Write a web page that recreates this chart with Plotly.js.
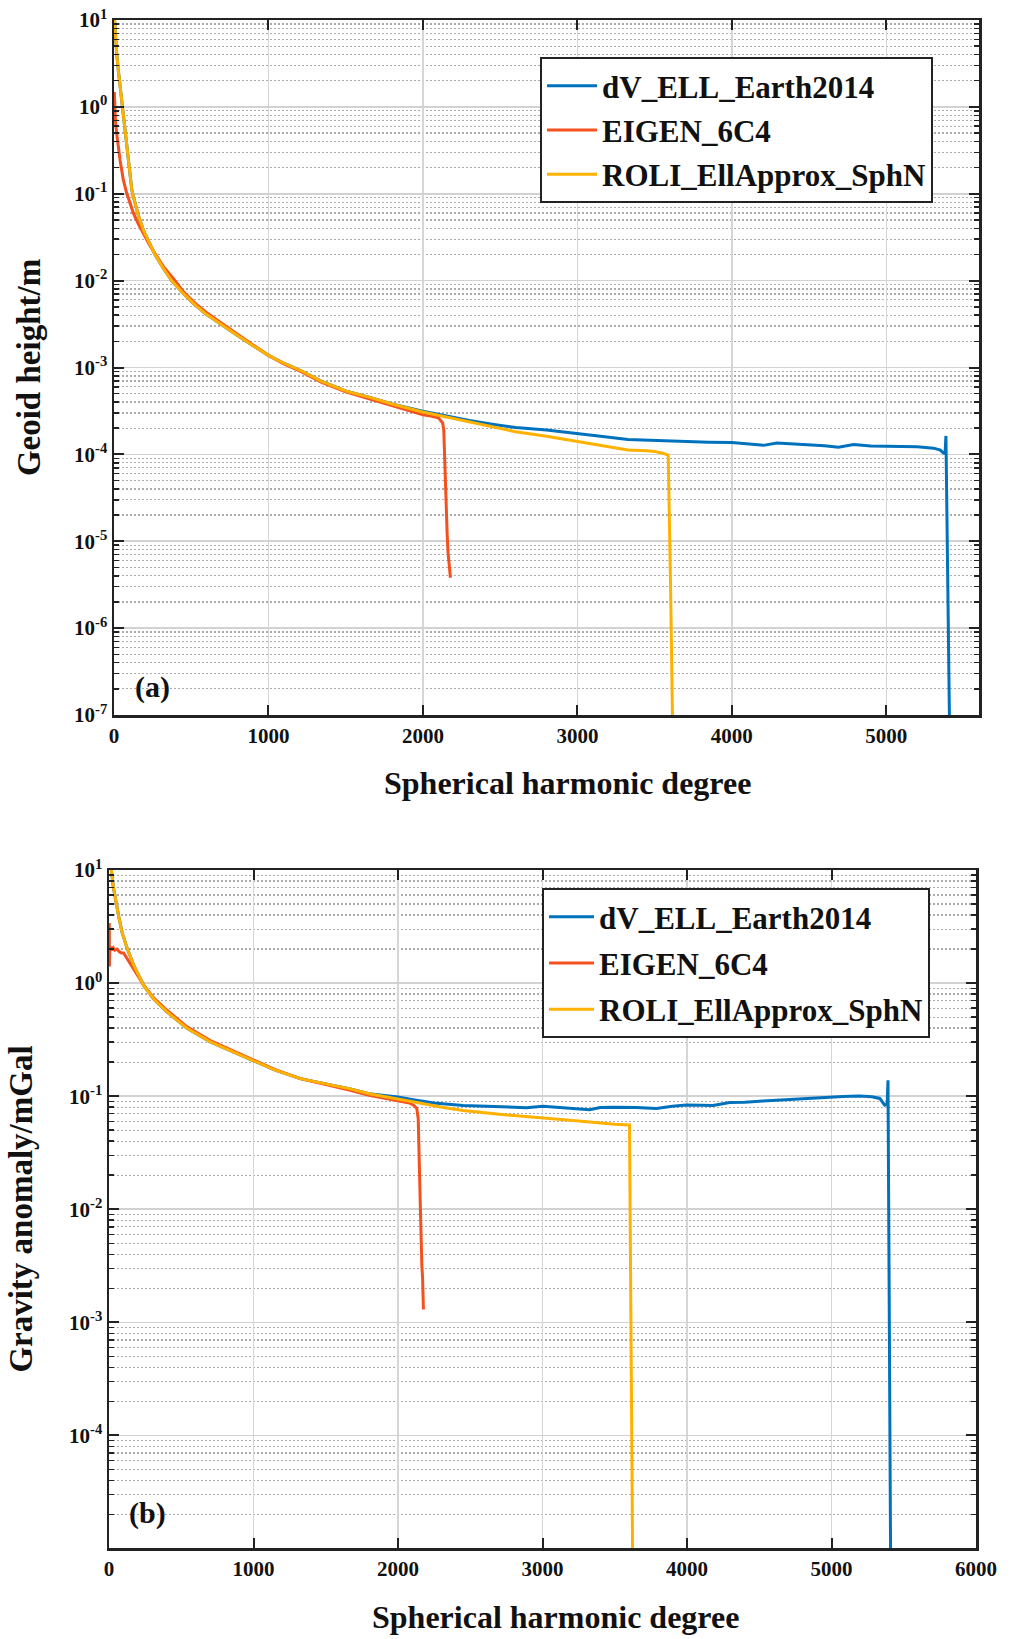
<!DOCTYPE html>
<html>
<head>
<meta charset="utf-8">
<script src="https://cdn.plot.ly/plotly-3.0.1.min.js"></script>
<style>html,body{margin:0;padding:0;background:#fff;}#chart{width:1016px;height:1639px;}</style>
</head>
<body>
<div id="chart"></div>
<script>
// ---------- names ----------
const seriesNames = ['dV_ELL_Earth2014', 'EIGEN_6C4', 'ROLI_EllApprox_SphN'];
const seriesColors = ['#0072BD', '#F4511E', '#FFB100'];

// ---------- panel (a): geoid height / m ----------
const aBlueDeg = [2, 8, 17, 28, 39, 50, 60, 70, 82, 93, 104, 115, 125, 136, 158, 190, 230, 265, 320, 373, 450, 524, 600, 697, 800, 900, 1000, 1100, 1215, 1344, 1500, 1668, 1800, 1992, 2150, 2300, 2459, 2600, 2800, 2992, 3150, 3327, 3450, 3578, 3700, 3850, 4000, 4100, 4205, 4291, 4400, 4500, 4600, 4690, 4788, 4900, 5004, 5100, 5200, 5306, 5350, 5371, 5380, 5386, 5410];
const aBlueVal = [11.2, 7.08, 4.17, 2.63, 1.74, 1.20, 0.871, 0.603, 0.398, 0.251, 0.166, 0.112, 0.0933, 0.0794, 0.0562, 0.0380, 0.0263, 0.0200, 0.0138, 0.0100, 0.00708, 0.00525, 0.00407, 0.00309, 0.00234, 0.00178, 0.00138, 0.00112, 0.000912, 0.000692, 0.000537, 0.000447, 0.000380, 0.000316, 0.000275, 0.000245, 0.000221, 0.000204, 0.000191, 0.000176, 0.000162, 0.000148, 0.000145, 0.000143, 0.000141, 0.000138, 0.000137, 0.000133, 0.000127, 0.000135, 0.000132, 0.000128, 0.000126, 0.000121, 0.000130, 0.0001245, 0.000123, 0.000123, 0.000122, 0.000118, 0.000112, 0.000103, 0.000102, 0.000163, 6e-8];

const aRedDeg = [2, 4, 6, 10, 17, 28, 39, 50, 60, 82, 104, 125, 158, 190, 230, 277, 320, 385, 450, 524, 600, 697, 800, 900, 1000, 1100, 1215, 1344, 1500, 1668, 1800, 1900, 2000, 2060, 2100, 2128, 2135, 2140, 2148, 2157, 2163, 2170, 2178];
const aRedVal = [1.48, 1.05, 0.871, 0.676, 0.501, 0.339, 0.245, 0.186, 0.145, 0.102, 0.0759, 0.0603, 0.0447, 0.0355, 0.0257, 0.0191, 0.0145, 0.0105, 0.00741, 0.00550, 0.00427, 0.00324, 0.00240, 0.00182, 0.00138, 0.00110, 0.000891, 0.000676, 0.000525, 0.000427, 0.000363, 0.000324, 0.000285, 0.000275, 0.000263, 0.000230, 0.000190, 0.000100, 0.000030, 0.000012, 0.0000073, 0.0000050, 0.0000038];

const aYelDeg = [2, 8, 17, 28, 39, 50, 60, 70, 82, 93, 104, 115, 125, 136, 158, 190, 230, 265, 320, 373, 450, 524, 600, 697, 800, 900, 1000, 1100, 1215, 1344, 1500, 1668, 1800, 1992, 2150, 2300, 2459, 2600, 2800, 2992, 3150, 3327, 3450, 3501, 3563, 3588, 3603, 3616, 3618];
const aYelVal = [11.2, 7.08, 4.17, 2.63, 1.74, 1.20, 0.871, 0.603, 0.398, 0.251, 0.166, 0.112, 0.0933, 0.0794, 0.0562, 0.0380, 0.0263, 0.0200, 0.0138, 0.0100, 0.00708, 0.00525, 0.00407, 0.00309, 0.00234, 0.00178, 0.00138, 0.00112, 0.000912, 0.000692, 0.000537, 0.000447, 0.000380, 0.000309, 0.000269, 0.000234, 0.000204, 0.000182, 0.000162, 0.000141, 0.000126, 0.000112, 0.000110, 0.000108, 0.000102, 0.0000977, 0.00000316, 0.0000001, 0.00000005];

// ---------- panel (b): gravity anomaly / mGal ----------
const bBlueDeg = [2, 16, 30, 44, 67, 90, 125, 170, 240, 309, 401, 540, 701, 863, 1000, 1150, 1324, 1500, 1670, 1800, 2000, 2104, 2250, 2450, 2650, 2888, 3003, 3150, 3326, 3400, 3488, 3650, 3787, 3900, 3995, 4100, 4180, 4295, 4400, 4526, 4650, 4780, 4870, 4964, 5080, 5195, 5280, 5334, 5368, 5385, 5391, 5410];
const bBlueVal = [17.8, 10.0, 7.08, 5.50, 3.89, 2.82, 2.04, 1.45, 0.955, 0.724, 0.556, 0.398, 0.302, 0.245, 0.207, 0.170, 0.143, 0.129, 0.116, 0.105, 0.0982, 0.0931, 0.0871, 0.0828, 0.0813, 0.0791, 0.0815, 0.0794, 0.0760, 0.0794, 0.0800, 0.0794, 0.0780, 0.0813, 0.0835, 0.0832, 0.0828, 0.0880, 0.0885, 0.0905, 0.0925, 0.0950, 0.0955, 0.0975, 0.0995, 0.1005, 0.0989, 0.0955, 0.0832, 0.0850, 0.138, 0.000005];

const bRedDeg = [2, 3, 4, 5, 8, 14, 20, 30, 40, 55, 70, 85, 101, 125, 147, 170, 200, 240, 309, 401, 540, 701, 863, 1000, 1150, 1324, 1500, 1670, 1800, 1993, 2080, 2110, 2130, 2140, 2148, 2155, 2165, 2170, 2176];
const bRedVal = [3.4, 1.4, 2.5, 1.9, 2.0, 2.1, 1.95, 2.05, 1.95, 2.0, 1.9, 1.85, 1.85, 1.65, 1.5, 1.35, 1.15, 0.96, 0.74, 0.575, 0.41, 0.31, 0.25, 0.21, 0.172, 0.143, 0.127, 0.113, 0.102, 0.092, 0.087, 0.083, 0.078, 0.063, 0.030, 0.010, 0.0032, 0.0025, 0.0013];

const bYelDeg = [2, 16, 30, 44, 67, 90, 125, 170, 240, 309, 401, 540, 701, 863, 1000, 1150, 1324, 1500, 1670, 1800, 1993, 2150, 2293, 2450, 2700, 3003, 3250, 3500, 3602, 3625];
const bYelVal = [17.8, 10.0, 7.08, 5.50, 3.89, 2.82, 2.04, 1.45, 0.955, 0.724, 0.556, 0.398, 0.302, 0.245, 0.207, 0.170, 0.143, 0.129, 0.116, 0.105, 0.0955, 0.0871, 0.0802, 0.0748, 0.0692, 0.0646, 0.0603, 0.0566, 0.0556, 0.000005];

// ---------- ticks / labels ----------
const aXTicks = [0, 1000, 2000, 3000, 4000, 5000];
const bXTicks = [0, 1000, 2000, 3000, 4000, 5000, 6000];
const aYTicks = [1e-7, 1e-6, 1e-5, 1e-4, 1e-3, 1e-2, 1e-1, 1, 10];
const aYLabels = ['10<sup>-7</sup>', '10<sup>-6</sup>', '10<sup>-5</sup>', '10<sup>-4</sup>', '10<sup>-3</sup>', '10<sup>-2</sup>', '10<sup>-1</sup>', '10<sup>0</sup>', '10<sup>1</sup>'];
const bYTicks = [1e-4, 1e-3, 1e-2, 1e-1, 1, 10];
const bYLabels = ['10<sup>-4</sup>', '10<sup>-3</sup>', '10<sup>-2</sup>', '10<sup>-1</sup>', '10<sup>0</sup>', '10<sup>1</sup>'];
const xTitle = 'Spherical harmonic degree';
const aYTitle = 'Geoid height/m';
const bYTitle = 'Gravity anomaly/mGal';
const panelLabels = ['(a)', '(b)'];

// minor log ticks (2..9 in each decade)
function minorTicks(lo, hi) {
  const v = [];
  for (let e = lo; e < hi; e++) for (let m = 2; m <= 9; m++) v.push(m * Math.pow(10, e));
  return v;
}

const FONT = 'Liberation Serif, Times New Roman, serif';
const W = 1016, H = 1639;

const traces = [];
const aData = [[aBlueDeg, aBlueVal], [aRedDeg, aRedVal], [aYelDeg, aYelVal]];
const bData = [[bBlueDeg, bBlueVal], [bRedDeg, bRedVal], [bYelDeg, bYelVal]];
aData.forEach((d, i) => traces.push({
  x: d[0], y: d[1], type: 'scatter', mode: 'lines', name: seriesNames[i],
  line: {color: seriesColors[i], width: 3}, xaxis: 'x', yaxis: 'y',
  legend: 'legend', legendgroup: 'a' + i
}));
bData.forEach((d, i) => traces.push({
  x: d[0], y: d[1], type: 'scatter', mode: 'lines', name: seriesNames[i],
  line: {color: seriesColors[i], width: 3}, xaxis: 'x2', yaxis: 'y2',
  legend: 'legend2', legendgroup: 'b' + i
}));

const tickFont = {family: FONT, size: 21, color: '#111', weight: 'bold'};
const xTitleFont = {family: FONT, size: 32, color: '#111', weight: 'bold'};
const yTitleFont = {family: FONT, size: 33, color: '#111', weight: 'bold'};

function xAxis(domain, range, ticks, anchor) {
  return {
    domain: domain, range: range, anchor: anchor, tickmode: 'array', tickvals: ticks,
    ticks: 'inside', ticklen: 10, tickwidth: 2, tickcolor: '#222',
    showline: true, linewidth: 2.5, linecolor: '#222', mirror: 'ticks',
    showgrid: true, gridcolor: '#d6d6d6', gridwidth: 1.5, zeroline: false,
    tickfont: tickFont
  };
}
function yAxis(domain, range, ticks, labels, title, anchor, mlo, mhi, standoff) {
  return {
    domain: domain, type: 'log', range: range, anchor: anchor,
    tickmode: 'array', tickvals: ticks, ticktext: labels,
    ticks: 'inside', ticklen: 10, tickwidth: 2, tickcolor: '#222',
    showline: true, linewidth: 2.5, linecolor: '#222', mirror: 'ticks',
    showgrid: true, gridcolor: '#d2d2d2', gridwidth: 1.6, zeroline: false,
    minor: {tickmode: 'array', tickvals: minorTicks(mlo, mhi), ticks: 'inside', ticklen: 5, tickwidth: 1.5, tickcolor: '#222',
            showgrid: true, gridcolor: '#ababab', gridwidth: 1.2, griddash: '2px,2px'},
    tickfont: tickFont, title: {text: title, font: yTitleFont, standoff: standoff}
  };
}

const legendFont = {family: FONT, size: 31, color: '#111', weight: 'bold'};
const layout = {
  width: W, height: H, margin: {l: 0, r: 0, t: 0, b: 0},
  paper_bgcolor: '#fff', plot_bgcolor: '#fff',
  font: {family: FONT, color: '#111', weight: 'bold'},
  xaxis: xAxis([114 / W, 979 / W], [0, 5600], aXTicks, 'y'),
  yaxis: yAxis([1 - 715 / H, 1 - 20 / H], [-7, 1], aYTicks, aYLabels, aYTitle, 'x', -7, 1, 24),
  xaxis2: xAxis([109 / W, 976 / W], [0, 6000], bXTicks, 'y2'),
  yaxis2: yAxis([1 - 1548 / H, 1 - 870 / H], [-4.995, 1], bYTicks, bYLabels, bYTitle, 'x2', -5, 1, 27),
  legend: {x: 540 / W, y: 1 - 57 / H, xanchor: 'left', yanchor: 'top', bgcolor: '#fff',
           bordercolor: '#222', borderwidth: 2, font: legendFont,
           tracegroupgap: 1, traceorder: 'grouped', itemwidth: 50},
  legend2: {x: 542 / W, y: 1 - 888 / H, xanchor: 'left', yanchor: 'top', bgcolor: '#fff',
            bordercolor: '#222', borderwidth: 2, font: legendFont,
            tracegroupgap: 3, traceorder: 'grouped', itemwidth: 45},
  annotations: [
    {text: xTitle, xref: 'paper', yref: 'paper', x: 567 / W, y: 1 - 783 / H, xanchor: 'center', yanchor: 'middle',
     showarrow: false, font: xTitleFont},
    {text: xTitle, xref: 'paper', yref: 'paper', x: 555 / W, y: 1 - 1617 / H, xanchor: 'center', yanchor: 'middle',
     showarrow: false, font: xTitleFont},
    {text: panelLabels[0], xref: 'paper', yref: 'paper', x: 152 / W, y: 1 - 687 / H, xanchor: 'center', yanchor: 'middle',
     showarrow: false, font: {family: FONT, size: 30, color: '#111', weight: 'bold'}},
    {text: panelLabels[1], xref: 'paper', yref: 'paper', x: 147 / W, y: 1 - 1513 / H, xanchor: 'center', yanchor: 'middle',
     showarrow: false, font: {family: FONT, size: 30, color: '#111', weight: 'bold'}}
  ]
};

Plotly.newPlot('chart', traces, layout, {displayModeBar: false, staticPlot: true});
</script>
</body>
</html>
